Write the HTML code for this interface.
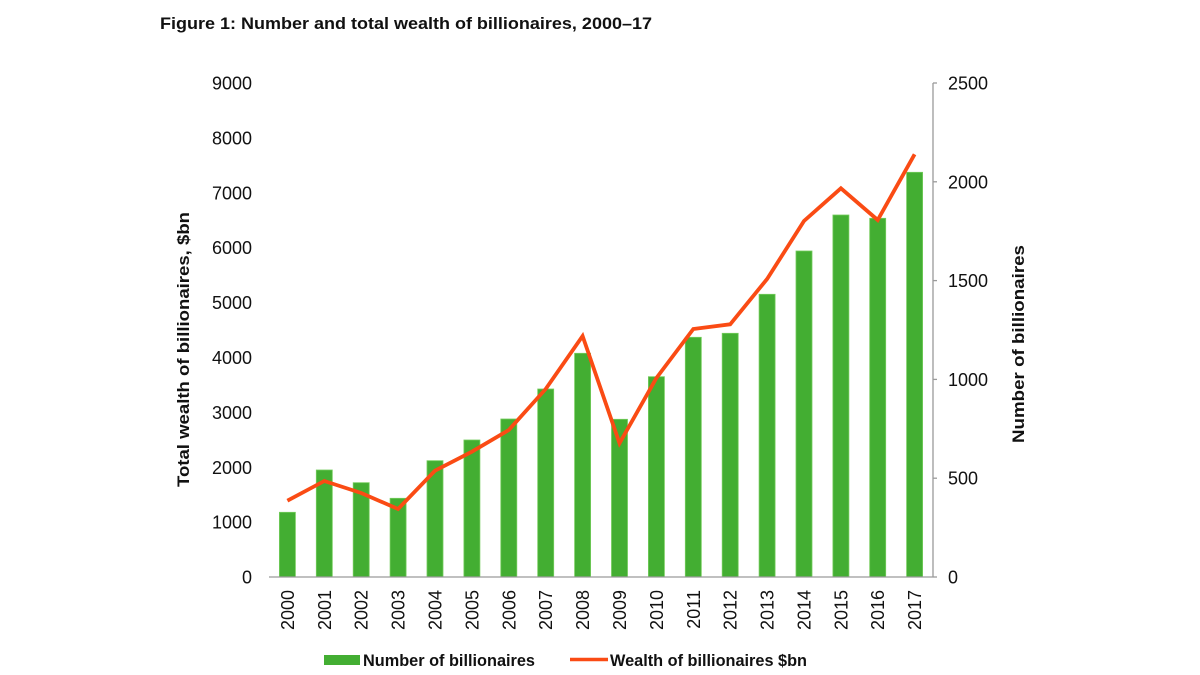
<!DOCTYPE html>
<html><head><meta charset="utf-8"><style>
html,body{margin:0;padding:0;background:#fff;}
svg{display:block;}
text{font-family:"Liberation Sans",Arial,sans-serif;fill:#111;}
.t{font-size:18px;}
.b{font-weight:bold;font-size:17px;}
</style></head><body>
<svg width="1200" height="675" viewBox="0 0 1200 675" xmlns="http://www.w3.org/2000/svg">
<rect width="1200" height="675" fill="#fff"/>
<text class="b" x="160" y="29" textLength="492" lengthAdjust="spacingAndGlyphs">Figure 1: Number and total wealth of billionaires, 2000–17</text>

<!-- left ticks -->
<g class="t" text-anchor="end">
<text x="252" y="89.5">9000</text>
<text x="252" y="144.4">8000</text>
<text x="252" y="199.3">7000</text>
<text x="252" y="254.2">6000</text>
<text x="252" y="309.1">5000</text>
<text x="252" y="364">4000</text>
<text x="252" y="418.9">3000</text>
<text x="252" y="473.8">2000</text>
<text x="252" y="528.7">1000</text>
<text x="252" y="583.6">0</text>
</g>
<!-- right ticks -->
<g class="t">
<text x="948" y="89.5">2500</text>
<text x="948" y="188.3">2000</text>
<text x="948" y="287.1">1500</text>
<text x="948" y="385.9">1000</text>
<text x="948" y="484.7">500</text>
<text x="948" y="583.5">0</text>
</g>
<g stroke="#9a9a9a" stroke-width="1.3">
<line x1="933" y1="83" x2="933" y2="577"/>
<line x1="933" y1="83" x2="937" y2="83"/>
<line x1="933" y1="181.8" x2="937" y2="181.8"/>
<line x1="933" y1="280.6" x2="937" y2="280.6"/>
<line x1="933" y1="379.4" x2="937" y2="379.4"/>
<line x1="933" y1="478.2" x2="937" y2="478.2"/>
<line x1="933" y1="577" x2="937" y2="577"/>
</g>

<!-- axis titles -->
<text class="b" transform="translate(189,487) rotate(-90)" textLength="275" lengthAdjust="spacingAndGlyphs">Total wealth of billionaires, $bn</text>
<text class="b" transform="translate(1024,443) rotate(-90)" textLength="198" lengthAdjust="spacingAndGlyphs">Number of billionaires</text>

<!-- bars -->
<g fill="#43ae32" stroke="#74cc5c" stroke-width="0.8">
<rect x="279.4" y="512.3" width="16" height="64.7"/>
<rect x="316.3" y="470" width="16" height="107"/>
<rect x="353.2" y="482.7" width="16" height="94.3"/>
<rect x="390.1" y="498.3" width="16" height="78.7"/>
<rect x="427" y="460.7" width="16" height="116.3"/>
<rect x="463.9" y="440" width="16" height="137"/>
<rect x="500.8" y="419" width="16" height="158"/>
<rect x="537.7" y="389" width="16" height="188"/>
<rect x="574.6" y="353.3" width="16" height="223.7"/>
<rect x="611.5" y="419.3" width="16" height="157.7"/>
<rect x="648.4" y="376.7" width="16" height="200.3"/>
<rect x="685.3" y="337.3" width="16" height="239.7"/>
<rect x="722.2" y="333.3" width="16" height="243.7"/>
<rect x="759.1" y="294.3" width="16" height="282.7"/>
<rect x="796" y="251" width="16" height="326"/>
<rect x="832.9" y="215" width="16" height="362"/>
<rect x="869.7" y="218.3" width="16" height="358.7"/>
<rect x="906.6" y="172.3" width="16" height="404.7"/>
</g>
<line x1="269" y1="577" x2="933" y2="577" stroke="#9a9a9a" stroke-width="1.3"/>

<!-- line -->
<polyline fill="none" stroke="#fa4b14" stroke-width="3.8" stroke-linejoin="miter" points="287.4,500.7 324.3,481 361.2,493 398.1,509 435,470.7 471.9,451.7 508.8,430 545.7,389 582.6,336 619.5,443.3 656.4,378 693.3,329 730.2,324.3 767.1,279 804,221 840.9,188.3 877.7,220 914.6,154.3"/>

<!-- x labels -->
<g class="t" text-anchor="end">
<text transform="translate(293.9,590) rotate(-90)">2000</text>
<text transform="translate(330.8,590) rotate(-90)">2001</text>
<text transform="translate(367.7,590) rotate(-90)">2002</text>
<text transform="translate(404.6,590) rotate(-90)">2003</text>
<text transform="translate(441.5,590) rotate(-90)">2004</text>
<text transform="translate(478.4,590) rotate(-90)">2005</text>
<text transform="translate(515.3,590) rotate(-90)">2006</text>
<text transform="translate(552.2,590) rotate(-90)">2007</text>
<text transform="translate(589.1,590) rotate(-90)">2008</text>
<text transform="translate(626,590) rotate(-90)">2009</text>
<text transform="translate(662.9,590) rotate(-90)">2010</text>
<text transform="translate(699.8,590) rotate(-90)">2011</text>
<text transform="translate(736.7,590) rotate(-90)">2012</text>
<text transform="translate(773.6,590) rotate(-90)">2013</text>
<text transform="translate(810.5,590) rotate(-90)">2014</text>
<text transform="translate(847.4,590) rotate(-90)">2015</text>
<text transform="translate(884.2,590) rotate(-90)">2016</text>
<text transform="translate(921.1,590) rotate(-90)">2017</text>
</g>

<!-- legend -->
<rect x="324" y="655" width="36" height="10" fill="#43ae32"/>
<text class="b" x="363" y="666" textLength="172" lengthAdjust="spacingAndGlyphs">Number of billionaires</text>
<line x1="570" y1="659.5" x2="608" y2="659.5" stroke="#fa4b14" stroke-width="3.5"/>
<text class="b" x="610" y="666" textLength="197" lengthAdjust="spacingAndGlyphs">Wealth of billionaires $bn</text>
</svg>
</body></html>
